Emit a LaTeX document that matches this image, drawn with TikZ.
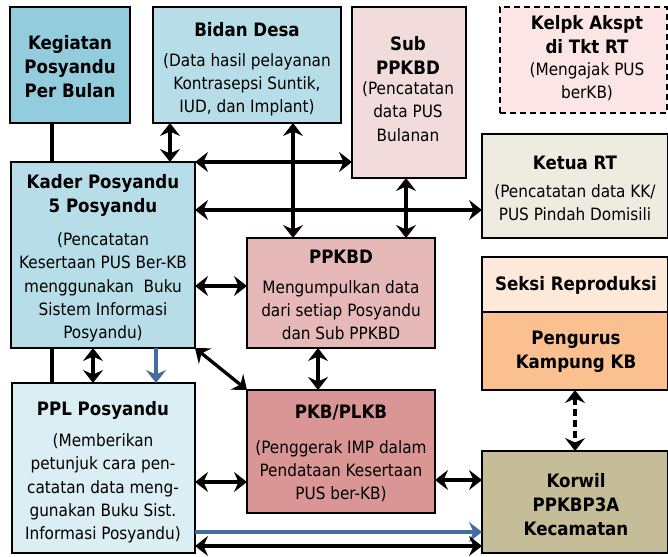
\documentclass[tikz,border=0pt]{standalone}
\usepackage{fontspec}
\setmainfont{DejaVu Sans Condensed}
\usetikzlibrary{arrows.meta}
\definecolor{ckeg}{RGB}{147,205,221}
\definecolor{cbid}{RGB}{183,222,232}
\definecolor{csub}{RGB}{242,220,219}
\definecolor{ckel}{RGB}{252,229,229}
\definecolor{cket}{RGB}{238,236,225}
\definecolor{cppk}{RGB}{230,185,184}
\definecolor{csek}{RGB}{253,233,217}
\definecolor{cpen}{RGB}{250,192,144}
\definecolor{cppl}{RGB}{219,238,244}
\definecolor{cpkb}{RGB}{217,150,148}
\definecolor{ckor}{RGB}{196,189,151}
\definecolor{cblue}{RGB}{68,108,160}
\tikzset{
  box/.style={draw=black, line width=2pt, inner sep=0pt, outer sep=0pt, rectangle},
  ttl/.style={font=\bfseries\fontsize{18.5}{24}\selectfont, align=center, inner sep=0pt},
  dsc/.style={font=\fontsize{17}{23.3}\selectfont, align=center, inner sep=0pt},
  tip/.tip={Stealth[length=13pt,width=20pt,inset=4.5pt]},
  conn/.style={line width=3.3pt, draw=black},
  dbl/.style={conn, tip-tip},
  bla/.style={line width=3.3pt, draw=cblue, -tip},
}
\begin{document}
\begin{tikzpicture}[x=1pt,y=-1pt]
\useasboundingbox (0,0) rectangle (668,556);
% boxes
\node[box, fill=ckeg, minimum width=120, minimum height=116] (keg) at (70,65) {};
\node[box, fill=cbid, minimum width=188, minimum height=116] (bid) at (247,65) {};
\node[box, fill=csub, minimum width=114, minimum height=171] (sub) at (409,92.5) {};
\node[box, fill=ckel, dash pattern=on 6pt off 4pt, minimum width=167, minimum height=106] (kel) at (583.5,60) {};
\node[box, fill=cket, minimum width=186, minimum height=104] (ket) at (575,186) {};
\node[box, fill=cbid, minimum width=184, minimum height=186] (kad) at (103,255) {};
\node[box, fill=cppk, minimum width=188, minimum height=110] (ppk) at (341,293) {};
\node[box, fill=csek, minimum width=186, minimum height=55] (sek) at (575,284.5) {};
\node[box, fill=cpen, minimum width=186, minimum height=78] (pen) at (575,351) {};
\node[box, fill=cppl, minimum width=183, minimum height=170] (ppl) at (103.5,468) {};
\node[box, fill=cpkb, minimum width=188, minimum height=123] (pkb) at (341,451.5) {};
\node[box, fill=ckor, minimum width=186, minimum height=102] (kor) at (575,502) {};
% texts
\node[ttl] (kegT) at (70,66.5) {Kegiatan\\Posyandu\\Per Bulan};
\node[ttl] (bidT) at (247,30) {Bidan Desa};
\node[dsc] (bidD) at (247,85) {(Data hasil pelayanan\\Kontrasepsi Suntik,\\IUD, dan Implant)};
\node[ttl] (subT) at (408,55) {Sub\\PPKBD};
\node[dsc] (subD) at (408,111.5) {(Pencatatan\\data PUS\\Bulanan};
\node[ttl] (kelT) at (587,35) {Kelpk Akspt\\di Tkt RT};
\node[dsc] (kelD) at (587,81.5) {(Mengajak PUS\\berKB)};
\node[ttl] (ketT) at (575,163) {Ketua RT};
\node[dsc] (ketD) at (575,202.5) {(Pencatatan data KK/\\PUS Pindah Domisili};
\node[ttl] (kadT) at (103,195.5) {Kader Posyandu\\5 Posyandu};
\node[dsc] (kadD) at (103,287.5) {(Pencatatan\\Kesertaan PUS Ber-KB\\menggunakan\ \ Buku\\Sistem Informasi\\Posyandu)};
\node[ttl] (ppkT) at (341,257) {PPKBD};
\node[dsc] (ppkD) at (341,310) {Mengumpulkan data\\dari setiap Posyandu\\dan Sub PPKBD};
\node[ttl] (sekT) at (576,285) {Seksi Reproduksi};
\node[ttl] (penT) at (576,351.5) {Pengurus\\Kampung KB};
\node[ttl] (pplT) at (103,410) {PPL Posyandu};
\node[dsc] (pplD) at (103,488.5) {(Memberikan\\petunjuk cara pen-\\catatan data meng-\\gunakan Buku Sist.\\Informasi Posyandu)};
\node[ttl] (pkbT) at (341,413) {PKB/PLKB};
\node[dsc] (pkbD) at (341,471) {(Penggerak IMP dalam\\Pendataan Kesertaan\\PUS ber-KB)};
\node[ttl] (korT) at (576,504.5) {Korwil\\PPKBP3A\\Kecamatan};
% connectors
\draw[conn] (keg.south -| 52,0) -- (kad.north -| 52,0);
\draw[dbl] (bid.south -| 170,0) -- (kad.north -| 170,0);
\draw[dbl] (kad.north east) -- (sub.west |- kad.north east);
\draw[dbl] (bid.south -| 293,0) -- (ppk.north -| 293,0);
\draw[dbl] (kad.east |- 0,210) -- (ket.west |- 0,210);
\draw[dbl] (sub.south -| 406,0) -- (ppk.north -| 406,0);
\draw[dbl] (kad.east |- 0,286) -- (ppk.west |- 0,286);
\draw[dbl] (kad.south east) -- (pkb.north west);
\draw[dbl] (ppk.south -| 318,0) -- (pkb.north -| 318,0);
\draw[conn] (kad.south -| 52,0) -- (ppl.north -| 52,0);
\draw[dbl] (kad.south -| 93,0) -- (ppl.north -| 93,0);
\draw[bla] (kad.south -| 156,0) -- (ppl.north -| 156,0);
\draw[dbl] (ppl.east |- 0,482) -- (pkb.west |- 0,482);
\draw[dbl] (pkb.east |- 0,480) -- (kor.west |- 0,480);
\draw[dbl, dash pattern=on 7pt off 4pt] (pen.south -| 575,0) -- (kor.north -| 575,0);
\draw[bla] (ppl.east |- 0,532) -- (kor.west |- 0,532);
\draw[dbl] (ppl.east |- 0,546) -- (kor.west |- 0,546);
\end{tikzpicture}
\end{document}
